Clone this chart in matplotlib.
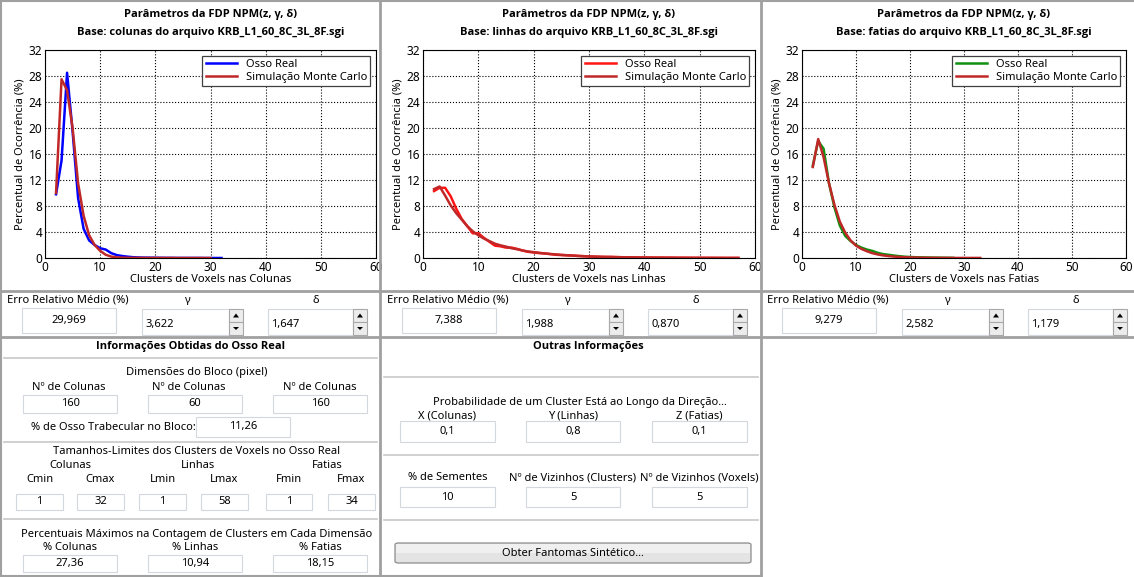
import matplotlib
matplotlib.use("Agg")
import matplotlib.pyplot as plt
from matplotlib.lines import Line2D
from matplotlib.patches import Rectangle, Polygon, FancyBboxPatch

plt.rcParams['font.family'] = ['Noto Sans', 'DejaVu Sans']
BOLD_FONT = ['Open Sans', 'Liberation Sans', 'DejaVu Sans']

# Data
cols_x = list(range(2, 33))
cols_real = [9.8, 15.0, 28.5, 19.5, 9.2, 4.5, 2.7, 2.0, 1.5, 1.3,
             0.75, 0.45, 0.3, 0.2, 0.12, 0.08, 0.06, 0.05, 0.04, 0.03,
             0.02, 0.02, 0.01, 0.01, 0.01, 0.01, 0.01, 0.0, 0.0, 0.0, 0.0]
cols_mc_x = list(range(2, 31))
cols_mc = [10.0, 27.5, 25.8, 20.0, 11.5, 6.5, 3.5, 2.0, 1.1, 0.5,
           0.22, 0.1, 0.05, 0.03, 0.02, 0.02, 0.01, 0.01, 0.01, 0.01,
           0.01, 0.01, 0.0, 0.0, 0.0, 0.0, 0.0, 0.0, 0.0]

lines_x = list(range(2, 58))
lines_real = [10.3, 10.8, 10.8, 9.5, 7.6, 6.0, 4.9, 3.8, 3.8, 3.1,
              2.5, 1.9, 1.8, 1.6, 1.6, 1.4, 1.15, 0.95, 0.85, 0.75,
              0.7, 0.6, 0.5, 0.45, 0.42, 0.38, 0.32, 0.28, 0.22, 0.2,
              0.18, 0.16, 0.17, 0.14, 0.12, 0.1, 0.09, 0.08, 0.08, 0.07,
              0.06, 0.06, 0.05, 0.05, 0.04, 0.04, 0.03, 0.03, 0.03, 0.02,
              0.02, 0.02, 0.02, 0.01, 0.01, 0.01]
lines_mc = [10.6, 11.0, 9.6, 8.1, 6.9, 5.9, 4.9, 4.1, 3.5, 3.0,
            2.6, 2.2, 1.95, 1.75, 1.5, 1.35, 1.15, 1.0, 0.9, 0.8,
            0.7, 0.62, 0.55, 0.48, 0.42, 0.37, 0.32, 0.28, 0.25, 0.22,
            0.19, 0.17, 0.15, 0.13, 0.11, 0.1, 0.09, 0.08, 0.07, 0.06,
            0.05, 0.05, 0.04, 0.04, 0.03, 0.03, 0.03, 0.02, 0.02, 0.02,
            0.02, 0.01, 0.01, 0.01, 0.01, 0.01]

slices_x = list(range(2, 29))
slices_real = [14.2, 18.0, 16.8, 11.5, 7.8, 5.0, 3.4, 2.6, 2.0, 1.6,
               1.3, 1.1, 0.8, 0.6, 0.5, 0.38, 0.28, 0.2, 0.15, 0.12,
               0.1, 0.08, 0.06, 0.05, 0.04, 0.03, 0.02]
slices_mc_x = list(range(2, 34))
slices_mc = [14.0, 18.3, 15.5, 11.5, 8.2, 5.6, 3.9, 2.7, 1.9, 1.4,
             1.05, 0.75, 0.55, 0.4, 0.3, 0.22, 0.16, 0.12, 0.09, 0.07,
             0.05, 0.04, 0.03, 0.03, 0.02, 0.02, 0.01, 0.01, 0.01, 0.01,
             0.01, 0.01]

bases = ["colunas", "linhas", "fatias"]
xlabels = ["Clusters de Voxels nas Colunas", "Clusters de Voxels nas Linhas",
           "Clusters de Voxels nas Fatias"]
erro = ["29,969", "7,388", "9,279"]
gamma = ["3,622", "1,988", "2,582"]
delta = ["1,647", "0,870", "1,179"]

W, H = 1134, 577
fig = plt.figure(figsize=(W / 100, H / 100), dpi=100)
fig.patch.set_facecolor("white")


def fx(x):
    return x / W


def fy(y):
    return 1 - y / H


def label(x, y, s, ha="center", size=8, bold=False):
    if bold:
        fig.text(fx(x), fy(y), s, ha=ha, va="center", fontsize=size,
                 fontweight="bold", family=BOLD_FONT)
    else:
        fig.text(fx(x), fy(y), s, ha=ha, va="center", fontsize=size)


def line(x0, y0, x1, y1, color="#a0a0a0", lw=1.5):
    fig.add_artist(Line2D([fx(x0), fx(x1)], [fy(y0), fy(y1)], color=color, lw=lw,
                          transform=fig.transFigure))


def textbox(x0, y0, x1, y1, value, ha="center"):
    fig.add_artist(Rectangle((fx(x0), fy(y1)), fx(x1) - fx(x0), fy(y0) - fy(y1),
                             transform=fig.transFigure, facecolor="white",
                             edgecolor="#d3d8de", lw=0.8))
    if ha == "center":
        label((x0 + x1) / 2, (y0 + y1) / 2, value)
    else:
        label(x0 + 3, (y0 + y1) / 2 + 3, value, ha="left")


def spinner(x0, y0, x1, y1):
    mid = (y0 + y1) / 2
    for a, b in [(y0, mid), (mid, y1)]:
        fig.add_artist(Rectangle((fx(x0), fy(b)), fx(x1) - fx(x0), fy(a) - fy(b),
                                 transform=fig.transFigure, facecolor="#ececec",
                                 edgecolor="#a8a8a8", lw=0.8))
    cx = (x0 + x1) / 2
    up = [(cx - 3, (y0 + mid) / 2 + 2), (cx + 3, (y0 + mid) / 2 + 2), (cx, (y0 + mid) / 2 - 2)]
    dn = [(cx - 3, (mid + y1) / 2 - 1.5), (cx + 3, (mid + y1) / 2 - 1.5), (cx, (mid + y1) / 2 + 1.5)]
    for tri in [up, dn]:
        fig.add_artist(Polygon([(fx(a), fy(b)) for a, b in tri], closed=True,
                               transform=fig.transFigure, facecolor="black", edgecolor="none"))


# Charts
chart_lefts = [45, 423, 802]
chart_rights = [376, 755, 1126]
series = [
    (cols_x, cols_real, cols_mc_x, cols_mc, "#0000ff"),
    (lines_x, lines_real, lines_x, lines_mc, "#ff1414"),
    (slices_x, slices_real, slices_mc_x, slices_mc, "#109010"),
]
for i in range(3):
    l, r = chart_lefts[i], chart_rights[i]
    ax = fig.add_axes([fx(l), fy(258), fx(r) - fx(l), fy(50) - fy(258)])
    xr, yr, xm, ym, col = series[i]
    ax.plot(xr, yr, color=col, lw=1.8, label="Osso Real")
    ax.plot(xm, ym, color="#c02828", lw=1.8, label="Simulação Monte Carlo")
    ax.set_xlim(0, 60)
    ax.set_ylim(0, 32)
    ax.set_xticks(range(0, 61, 10))
    ax.set_yticks(range(0, 33, 4))
    ax.grid(True, color="black", linestyle=":", lw=0.8)
    ax.tick_params(length=0, labelsize=8.5, pad=2)
    for s in ax.spines.values():
        s.set_color("black")
        s.set_linewidth(0.8)
    ax.set_xlabel(xlabels[i], fontsize=8, labelpad=0)
    ax.set_ylabel("Percentual de Ocorrência (%)", fontsize=8, labelpad=2)
    leg = ax.legend(loc="upper right", bbox_to_anchor=(1, 1), borderaxespad=0.5,
                    fancybox=False, framealpha=1, edgecolor="#404040", fontsize=8,
                    handlelength=2.8, borderpad=0.3, labelspacing=0.2)
    leg.get_frame().set_linewidth(0.9)
    cx = (l + r) / 2
    label(cx, 15, "Parâmetros da FDP NPM(z, γ, δ)", size=8, bold=True)
    label(cx, 32, "Base: %s do arquivo KRB_L1_60_8C_3L_8F.sgi" % bases[i], size=8, bold=True)

# Parameter row under each chart
for i, off in enumerate([0, 380, 760]):
    label(off + 68, 300, "Erro Relativo Médio (%)")
    textbox(off + 22, 308, off + 116, 333, erro[i])
    label(off + 187, 300, "γ")
    textbox(off + 142, 309, off + 229, 335, gamma[i], ha="left")
    spinner(off + 229, 309, off + 243, 335)
    label(off + 316, 300, "δ")
    textbox(off + 268, 309, off + 353, 335, delta[i], ha="left")
    spinner(off + 353, 309, off + 367, 335)

# Frame lines
line(0, 1, W, 1)
line(1, 0, 1, H)
line(380, 0, 380, H, lw=2)
line(761, 0, 761, H, lw=2)
line(0, 291, W, 291, lw=2)
line(0, 337, W, 337, lw=2)
line(0, 576, 761, 576, lw=1.5)

# Left panel: information from the real bone
label(190, 347, "Informações Obtidas do Osso Real", bold=True)
line(4, 358, 377, 358, color="#c8c8c8", lw=1.2)
label(197, 372, "Dimensões do Bloco (pixel)")
dims = ["160", "60", "160"]
for cx, (a, b), v in zip([69, 189, 320], [(23, 117), (148, 242), (273, 367)], dims):
    label(cx, 387, "Nº de Colunas")
    textbox(a, 395, b, 413, v)
label(113, 427, "% de Osso Trabecular no Bloco:")
textbox(196, 417, 290, 437, "11,26")
line(4, 442, 377, 442, color="#c8c8c8", lw=1.2)
label(197, 452, "Tamanhos-Limites dos Clusters de Voxels no Osso Real")
for cx, s in zip([70, 198, 327], ["Colunas", "Linhas", "Fatias"]):
    label(cx, 465, s)
lim_names = ["Cmin", "Cmax", "Lmin", "Lmax", "Fmin", "Fmax"]
lim_values = ["1", "32", "1", "58", "1", "34"]
lim_boxes = [(16, 63), (77, 124), (139, 186), (201, 248), (266, 312), (328, 375)]
for s, v, (a, b) in zip(lim_names, lim_values, lim_boxes):
    label((a + b) / 2, 480, s)
    textbox(a, 494, b, 510, v)
line(4, 519, 377, 519, color="#c8c8c8", lw=1.2)
label(197, 534, "Percentuais Máximos na Contagem de Clusters em Cada Dimensão")
max_names = ["% Colunas", "% Linhas", "% Fatias"]
max_values = ["27,36", "10,94", "18,15"]
for s, v, (a, b) in zip(max_names, max_values, [(23, 117), (148, 242), (273, 367)]):
    label((a + b) / 2, 547, s)
    textbox(a, 555, b, 572, v)

# Middle panel: other information
label(588, 347, "Outras Informações", bold=True)
line(384, 377, 758, 377, color="#c8c8c8", lw=1.2)
label(580, 402, "Probabilidade de um Cluster Está ao Longo da Direção...")
prob_names = ["X (Colunas)", "Y (Linhas)", "Z (Fatias)"]
prob_values = ["0,1", "0,8", "0,1"]
mid_boxes = [(400, 495), (526, 620), (652, 747)]
for s, v, (a, b) in zip(prob_names, prob_values, mid_boxes):
    label((a + b) / 2, 416, s)
    textbox(a, 421, b, 442, v)
line(384, 455, 758, 455, color="#c8c8c8", lw=1.2)
seed_names = ["% de Sementes", "Nº de Vizinhos (Clusters)", "Nº de Vizinhos (Voxels)"]
seed_values = ["10", "5", "5"]
for s, v, (a, b) in zip(seed_names, seed_values, mid_boxes):
    label((a + b) / 2, 478, s)
    textbox(a, 487, b, 507, v)
line(384, 520, 758, 520, color="#c8c8c8", lw=1.2)
fig.add_artist(FancyBboxPatch((fx(395), fy(563)), fx(751) - fx(395), fy(543) - fy(563),
                              boxstyle="round,pad=0,rounding_size=0.003",
                              transform=fig.transFigure, facecolor="#e4e4e4",
                              edgecolor="#8c8c8c", lw=0.9))
fig.add_artist(Rectangle((fx(396), fy(553)), fx(750) - fx(396), fy(544) - fy(553),
                         transform=fig.transFigure, facecolor="#f0f0f0", edgecolor="none"))
label(573, 553, "Obter Fantomas Sintético...")

fig.savefig("out.png", dpi=100)
